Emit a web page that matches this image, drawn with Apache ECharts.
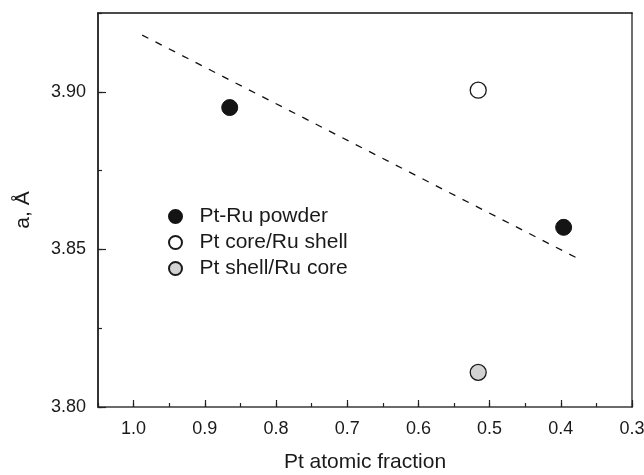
<!DOCTYPE html>
<html>
<head>
<meta charset="utf-8">
<script src="https://cdn.jsdelivr.net/npm/echarts@6/dist/echarts.min.js"></script>
<style>
  html, body { margin: 0; padding: 0; background: #fff; }
  #chart { width: 644px; height: 475px; }
</style>
</head>
<body>
<div id="chart"></div>
<script>
// Lattice parameter vs. Pt atomic fraction
const seriesNames = ['Pt-Ru powder', 'Pt core/Ru shell', 'Pt shell/Ru core'];

const powderX = [0.865, 0.396];
const powderY = [3.895, 3.857];

const coreShellX = [0.516];
const coreShellY = [3.9005];

const shellCoreX = [0.516];
const shellCoreY = [3.811];

// Vegard-type reference line
const trendX = [0.988, 0.375];
const trendY = [3.918, 3.847];

const xMin = 0.3, xMax = 1.05, xMajor = 0.1, xMinor = 0.05;
const yMin = 3.80, yMax = 3.925, yMajor = 0.05, yMinor = 0.025;

const pairs = (xs, ys) => xs.map((x, i) => [x, ys[i]]);

const FONT = '"Liberation Sans", Arial, Helvetica, sans-serif';
const TXT = '#1a1a1a';

const chart = echarts.init(document.getElementById('chart'), null, { renderer: 'canvas' });

chart.setOption({
  animation: false,
  backgroundColor: '#fff',
  textStyle: { fontFamily: FONT },
  grid: {
    left: 98, right: 12, top: 13, bottom: 68,
    containLabel: false,
    outerBoundsMode: 'none'
  },
  legend: {
    orient: 'vertical',
    left: 163, top: 201,
    itemWidth: 38, itemHeight: 13, itemGap: 5,
    data: seriesNames,
    textStyle: { fontSize: 21, color: TXT, fontFamily: FONT, padding: [0, 0, 0, 0] },
    selectedMode: false
  },
  xAxis: [
    {
      type: 'value', position: 'bottom', inverse: true,
      min: xMin, max: xMax, interval: xMajor,
      name: 'Pt atomic fraction', nameLocation: 'middle', nameGap: 45,
      nameTextStyle: { fontSize: 21, color: TXT, fontFamily: FONT },
      axisLine: { show: true, lineStyle: { color: '#3a3a3a', width: 1.7 } },
      axisTick: { show: true, inside: true, length: 7, lineStyle: { color: '#222', width: 1.2 } },
      axisLabel: {
        show: true, margin: 13, fontSize: 18, color: TXT, fontFamily: FONT,
        showMaxLabel: false,
        formatter: v => Number(v).toFixed(1)
      },
      splitLine: { show: false }
    },
    {
      type: 'value', position: 'bottom', inverse: true,
      min: xMin, max: xMax, interval: xMinor,
      axisLine: { show: false },
      axisTick: { show: true, inside: true, length: 4, lineStyle: { color: '#222', width: 1.2 } },
      axisLabel: { show: false },
      splitLine: { show: false }
    },
    {
      type: 'value', position: 'top', inverse: true,
      min: xMin, max: xMax,
      axisLine: { show: true, lineStyle: { color: '#111', width: 1.7 } },
      axisTick: { show: false }, axisLabel: { show: false }, splitLine: { show: false }
    }
  ],
  yAxis: [
    {
      type: 'value', position: 'left',
      min: yMin, max: yMax, interval: yMajor,
      name: 'a, Å', nameLocation: 'middle', nameGap: 64, nameRotate: 90,
      nameTextStyle: { fontSize: 21, color: TXT, fontFamily: FONT },
      axisLine: { show: true, lineStyle: { color: '#111', width: 1.7 } },
      axisTick: { show: true, inside: true, length: 8, lineStyle: { color: '#222', width: 1.2 } },
      axisLabel: {
        show: true, margin: 12, fontSize: 18, color: TXT, fontFamily: FONT,
        showMaxLabel: false,
        formatter: v => Number(v).toFixed(2)
      },
      splitLine: { show: false }
    },
    {
      type: 'value', position: 'left',
      min: yMin, max: yMax, interval: yMinor,
      axisLine: { show: false },
      axisTick: { show: true, inside: true, length: 4, lineStyle: { color: '#222', width: 1.2 } },
      axisLabel: { show: false },
      splitLine: { show: false }
    },
    {
      type: 'value', position: 'right',
      min: yMin, max: yMax,
      axisLine: { show: true, lineStyle: { color: '#555', width: 1.7 } },
      axisTick: { show: false }, axisLabel: { show: false }, splitLine: { show: false }
    }
  ],
  series: [
    {
      name: 'trend', type: 'line', xAxisIndex: 0, yAxisIndex: 0,
      data: pairs(trendX, trendY),
      symbol: 'none', silent: true,
      lineStyle: { color: '#111', width: 1.3, type: [7, 8] },
      z: 1
    },
    {
      name: seriesNames[0], type: 'scatter', xAxisIndex: 0, yAxisIndex: 0,
      data: pairs(powderX, powderY),
      symbol: 'circle', symbolSize: 16,
      itemStyle: { color: '#141414', borderColor: '#141414', borderWidth: 1, opacity: 1 },
      z: 3
    },
    {
      name: seriesNames[1], type: 'scatter', xAxisIndex: 0, yAxisIndex: 0,
      data: pairs(coreShellX, coreShellY),
      symbol: 'circle', symbolSize: 16,
      itemStyle: { color: '#ffffff', borderColor: '#1a1a1a', borderWidth: 1.3, opacity: 1 },
      z: 3
    },
    {
      name: seriesNames[2], type: 'scatter', xAxisIndex: 0, yAxisIndex: 0,
      data: pairs(shellCoreX, shellCoreY),
      symbol: 'circle', symbolSize: 16,
      itemStyle: { color: '#d2d2d2', borderColor: '#1a1a1a', borderWidth: 1.3, opacity: 1 },
      z: 3
    }
  ]
});
</script>
</body>
</html>
